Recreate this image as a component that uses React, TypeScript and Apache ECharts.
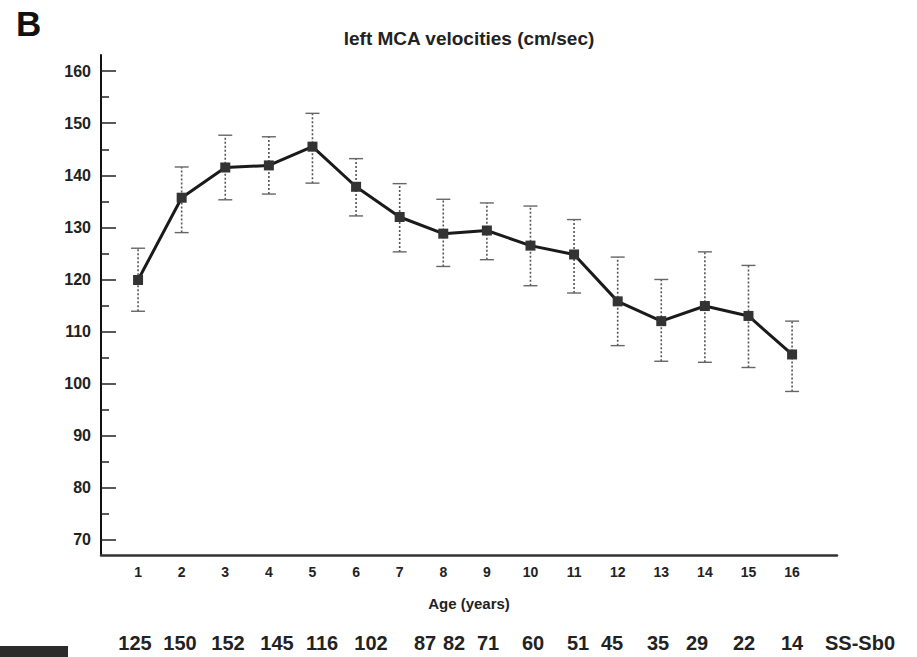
import React, { useEffect, useRef } from "react";
import * as echarts from "echarts";

const ages = [1, 2, 3, 4, 5, 6, 7, 8, 9, 10, 11, 12, 13, 14, 15, 16];
const meanVelocity = [119.9, 135.7, 141.5, 141.9, 145.5, 137.8, 132.0, 128.8, 129.4, 126.5, 124.8, 115.8, 112.0, 114.9, 113.0, 105.6];
const upperVelocity = [126.0, 141.6, 147.7, 147.4, 151.9, 143.2, 138.4, 135.4, 134.7, 134.1, 131.5, 124.3, 120.0, 125.3, 122.7, 112.0];
const lowerVelocity = [113.9, 129.0, 135.3, 136.4, 138.5, 132.2, 125.3, 122.5, 123.8, 118.8, 117.4, 107.3, 104.3, 104.1, 103.1, 98.5];
const sampleSizes = [125, 150, 152, 145, 116, 102, 87, 82, 71, 60, 51, 45, 35, 29, 22, 14];
const sampleLabel = "SS-Sb0";
const yMajorTicks = [70, 80, 90, 100, 110, 120, 130, 140, 150, 160];
const yMinorTicks = [75, 85, 95, 105, 115, 125, 135, 145, 155];

// layout only: horizontal centres of the sample-size row
const sampleX = [135, 180, 228, 277, 322, 371, 425, 454, 488, 533, 578, 612, 658, 697, 744, 792];
const sampleLabelX = 860;

const FONT = "Liberation Sans, Arial, Helvetica, sans-serif";

export default function App() {
  const ref = useRef<HTMLDivElement>(null);

  useEffect(() => {
    document.body.style.margin = "0";
    const chart = echarts.init(ref.current!, null, { renderer: "svg" });

    const errData = ages.map((a, i) => [a, lowerVelocity[i], upperVelocity[i]]);
    const lineData = ages.map((a, i) => [a, meanVelocity[i]]);

    const textStyle = (text: string, font: string, align: string) => ({
      text,
      font,
      fill: "#222",
      align,
      verticalAlign: "middle",
      textAlign: align,
      textVerticalAlign: "middle",
    });

    const sampleTexts: any[] = sampleSizes.map((n, i) => ({
      type: "text",
      x: sampleX[i],
      y: 643,
      style: textStyle(String(n), `bold 20px ${FONT}`, "center"),
    }));
    sampleTexts.push({
      type: "text",
      x: sampleLabelX,
      y: 643,
      style: textStyle(sampleLabel, `bold 20px ${FONT}`, "center"),
    });

    chart.setOption({
      animation: false,
      backgroundColor: "#ffffff",
      grid: { left: 101, right: 80, top: 55, bottom: 102, containLabel: false },
      xAxis: {
        type: "value",
        min: 0.15,
        max: 17.03,
        name: "Age (years)",
        nameLocation: "middle",
        nameGap: 41,
        nameTextStyle: { fontFamily: FONT, fontWeight: "bold", fontSize: 15, color: "#222" },
        axisLine: { show: true, onZero: false, lineStyle: { color: "#333", width: 2.5 } },
        axisTick: { show: false },
        splitLine: { show: false },
        axisLabel: {
          customValues: ages,
          margin: 10,
          fontFamily: FONT,
          fontWeight: "bold",
          fontSize: 14,
          color: "#222",
        },
      },
      yAxis: [
        {
          type: "value",
          min: 67.1,
          max: 163.1,
          position: "left",
          axisLine: { show: true, onZero: false, lineStyle: { color: "#111", width: 2 } },
          axisTick: { show: true, inside: true, length: 15, customValues: yMajorTicks, lineStyle: { color: "#222", width: 1.5 } },
          axisLabel: {
            customValues: yMajorTicks,
            margin: 10,
            fontFamily: FONT,
            fontWeight: "bold",
            fontSize: 16,
            color: "#222",
          },
          splitLine: { show: false },
        },
        {
          type: "value",
          min: 67.1,
          max: 163.1,
          position: "left",
          offset: 0,
          axisLine: { show: false },
          axisTick: { show: true, inside: true, length: 8, customValues: yMinorTicks, lineStyle: { color: "#222", width: 1.5 } },
          axisLabel: { show: false },
          splitLine: { show: false },
        },
      ],
      graphic: [
        {
          type: "text",
          x: 16,
          y: 23,
          style: { ...textStyle("B", `bold 35px ${FONT}`, "left"), fill: "#111" },
        },
        {
          type: "text",
          x: 469,
          y: 38,
          style: textStyle("left MCA velocities (cm/sec)", `bold 19px ${FONT}`, "center"),
        },
        {
          type: "rect",
          shape: { x: 0, y: 646, width: 68, height: 11 },
          style: { fill: "#2b2b2b" },
        },
        ...sampleTexts,
      ],
      series: [
        {
          type: "custom",
          xAxisIndex: 0,
          yAxisIndex: 0,
          data: errData,
          z: 2,
          renderItem: (params: any, api: any) => {
            const x = api.value(0);
            const lo = api.coord([x, api.value(1)]);
            const hi = api.coord([x, api.value(2)]);
            const hw = 7;
            return {
              type: "group",
              children: [
                {
                  type: "line",
                  shape: { x1: lo[0], y1: lo[1], x2: hi[0], y2: hi[1] },
                  style: { stroke: "#555", lineWidth: 1.6, lineDash: [2, 2] },
                },
                {
                  type: "line",
                  shape: { x1: hi[0] - hw, y1: hi[1], x2: hi[0] + hw, y2: hi[1] },
                  style: { stroke: "#666", lineWidth: 1.4 },
                },
                {
                  type: "line",
                  shape: { x1: lo[0] - hw, y1: lo[1], x2: lo[0] + hw, y2: lo[1] },
                  style: { stroke: "#666", lineWidth: 1.4 },
                },
              ],
            };
          },
        },
        {
          type: "line",
          xAxisIndex: 0,
          yAxisIndex: 0,
          data: lineData,
          z: 3,
          symbol: "rect",
          symbolSize: 10,
          itemStyle: { color: "#333" },
          lineStyle: { color: "#1a1a1a", width: 3 },
        },
      ],
    });

    return () => chart.dispose();
  }, []);

  return <div ref={ref} style={{ position: "absolute", left: 0, top: 0, width: 917, height: 657 }} />;
}
